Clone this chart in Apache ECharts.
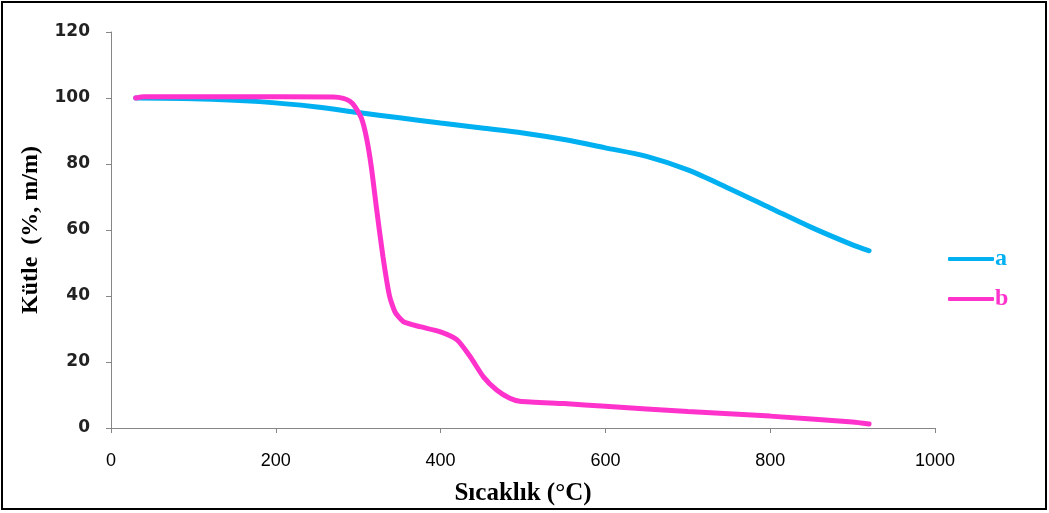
<!DOCTYPE html>
<html>
<head>
<meta charset="utf-8">
<script src="https://cdn.jsdelivr.net/npm/echarts@6/dist/echarts.min.js"></script>
<style>
  html, body { margin: 0; padding: 0; background: #fff; }
  #chart { width: 1049px; height: 513px; }
</style>
</head>
<body>
<div id="chart"></div>
<script>
// sample a
const tempA = [30, 100, 180, 250, 300, 350, 400, 450, 500, 550, 600, 650, 700, 750, 800, 850, 900, 920]
const massA = [100, 99.8, 98.9, 97.3, 95.6, 94.0, 92.4, 90.9, 89.4, 87.4, 84.9, 82.3, 78.2, 72.6, 66.7, 60.8, 55.5, 53.7]
// sample b
const tempB = [30, 40, 150, 270, 282, 290, 296, 304, 310, 316, 322, 330, 338, 345, 355, 375, 399, 420, 436, 452, 468, 484, 496, 550, 600, 700, 800, 900, 920]
const massB = [100, 100.4, 100.4, 100.3, 99.9, 99.0, 97.4, 93.8, 88, 79, 67, 52, 40, 35, 32.2, 30.7, 29.2, 26.7, 21.6, 15.5, 11.5, 9.0, 8.1, 7.4, 6.6, 5.0, 3.6, 1.8, 1.2]
const xTicks = [0, 200, 400, 600, 800, 1000]
const yTicks = [0, 20, 40, 60, 80, 100, 120]

const colorA = '#00B0F0'
const colorB = '#FF33CC'

const chart = echarts.init(document.getElementById('chart'))

const axisGray = '#868686'

const option = {
  animation: false,
  grid: {
    left: 111,
    right: 1049 - 935,
    top: 32,
    bottom: 513 - 428
  },
  graphic: [{
    type: 'rect',
    shape: { x: 2, y: 2, width: 1044, height: 507 },
    style: { fill: 'none', stroke: '#000', lineWidth: 2 },
    silent: true
  }],
  legend: {
    orient: 'vertical',
    left: 943,
    top: 242,
    itemWidth: 46,
    itemHeight: 4,
    itemGap: 16,
    icon: 'roundRect',
    textStyle: {
      fontFamily: 'Liberation Serif',
      fontWeight: 'bold',
      fontSize: 24,
      padding: [0, 0, 0, -4]
    },
    data: [
      { name: 'a', textStyle: { color: colorA } },
      { name: 'b', textStyle: { color: colorB } }
    ]
  },
  xAxis: {
    type: 'value',
    min: xTicks[0],
    max: xTicks[xTicks.length - 1],
    interval: 200,
    name: 'Sıcaklık (°C)',
    nameLocation: 'middle',
    nameGap: 53,
    nameTextStyle: {
      fontFamily: 'Liberation Serif',
      fontWeight: 'bold',
      fontSize: 25,
      color: '#000'
    },
    axisLine: { show: true, lineStyle: { color: axisGray, width: 1 } },
    axisTick: { show: true, length: 5, lineStyle: { color: axisGray } },
    splitLine: { show: false },
    axisLabel: {
      margin: 24,
      fontFamily: 'Liberation Sans Narrow, Liberation Sans',
      fontSize: 18,
      color: '#000',
      formatter: v => String(v)
    }
  },
  yAxis: {
    type: 'value',
    min: yTicks[0],
    max: yTicks[yTicks.length - 1],
    interval: 20,
    name: 'Kütle  (%, m/m)',
    nameLocation: 'middle',
    nameGap: 68,
    nameTextStyle: {
      fontFamily: 'Liberation Serif',
      fontWeight: 'bold',
      fontSize: 24,
      color: '#000'
    },
    axisLine: { show: true, lineStyle: { color: axisGray, width: 1 } },
    axisTick: { show: true, length: 5, lineStyle: { color: axisGray } },
    splitLine: { show: false },
    axisLabel: {
      margin: 21,
      fontFamily: 'DejaVu Sans',
      fontWeight: 'bold',
      fontSize: 17,
      color: '#222'
    }
  },
  series: [
    {
      name: 'a',
      type: 'line',
      smooth: 0.3,
      showSymbol: false,
      color: colorA,
      lineStyle: { width: 5, color: colorA, cap: 'round' },
      data: tempA.map((t, i) => [t, massA[i]])
    },
    {
      name: 'b',
      type: 'line',
      smooth: 0.2,
      showSymbol: false,
      color: colorB,
      lineStyle: { width: 5, color: colorB, cap: 'round' },
      data: tempB.map((t, i) => [t, massB[i]])
    }
  ]
}

chart.setOption(option)
</script>
</body>
</html>
